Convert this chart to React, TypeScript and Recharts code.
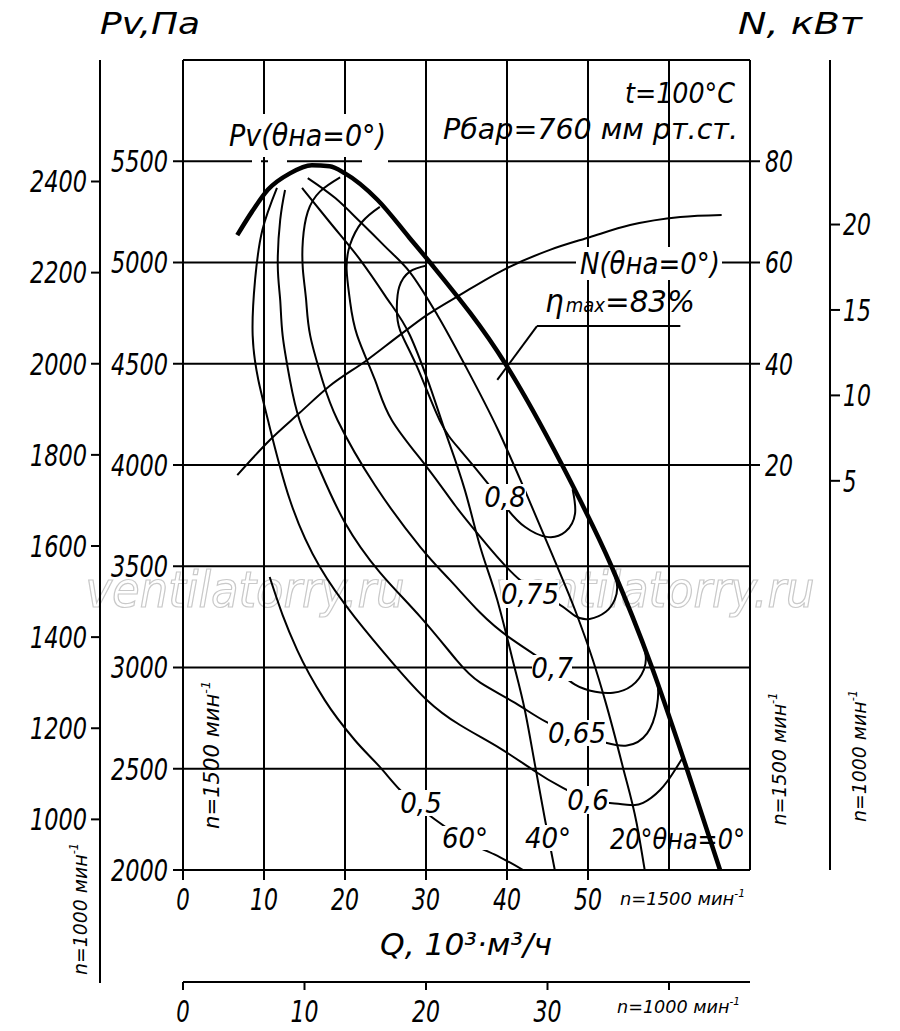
import React from "react";
import {
  CartesianGrid,
  ComposedChart,
  Line,
  ReferenceLine,
  XAxis,
  YAxis,
} from "recharts";

// Fan characteristic, n = 1500 min-1 (inner scales) and n = 1000 min-1 (outer scales).

const FONT = "'Liberation Sans Narrow', 'DejaVu Sans Condensed', 'Liberation Sans', sans-serif";

// Axis ticks
const Q_TICKS = [0, 10, 20, 30, 40, 50];
const Q1000_TICKS = [0, 10, 20, 30, 40];
const PV_TICKS = [2000, 2500, 3000, 3500, 4000, 4500, 5000, 5500];
const PV1000_TICKS = [1000, 1200, 1400, 1600, 1800, 2000, 2200, 2400];
const N_TICKS = [20, 40, 60, 80];
const N1000_TICKS = [5, 10, 15, 20];

// Speed ratio between the two scale sets (1000 / 1500)
const K = 2 / 3;

// Pv, θна = 0° (thick curve)
const PV0_Q = [6.7, 8.5, 10.5, 13.2, 15.9, 18.1, 20, 24, 28, 30.5, 39.8, 46.8, 52.9, 57.9, 62.2, 66.3];
const PV0_PA = [5135, 5250, 5360, 5440, 5480, 5475, 5440, 5310, 5120, 5000, 4500, 4000, 3500, 3000, 2500, 2000];

// N, θна = 0°, kW
const N0_Q = [6.7, 10.7, 14.4, 18.1, 22.7, 26.8, 30.1, 34.2, 40, 45.3, 50.2, 55.2, 61.4, 66.5];
const N0_KW = [18, 24.9, 30.3, 35.6, 40.7, 45.7, 49.6, 53.6, 58.9, 62.5, 65, 67.4, 69, 69.4];

// Pv for guide vane angles
const TH20_Q = [15.4, 18.8, 21.9, 24.9, 28.0, 31.4, 34.8, 38.9, 42.2, 45.7, 48.4, 50.6, 52.1, 54.3, 56.0, 57.0];
const TH20_PA = [5417, 5318, 5200, 5081, 4953, 4741, 4494, 4173, 3876, 3546, 3284, 3037, 2839, 2509, 2232, 2000];
const TH40_Q = [14.7, 18.1, 21.9, 24.9, 28.0, 30.2, 32.1, 34.8, 36.7, 38.8, 40.7, 42.2, 43.5, 44.7, 45.9];
const TH40_PA = [5368, 5200, 5012, 4839, 4642, 4420, 4197, 3876, 3595, 3333, 3037, 2790, 2509, 2247, 2000];
const TH60_Q = [10.7, 12.3, 14.1, 17.5, 21.2, 24.3, 26.8, 29.9, 32.6, 36.0, 39.1, 42.0];
const TH60_PA = [3447, 3259, 3086, 2839, 2642, 2509, 2395, 2286, 2207, 2123, 2064, 2000];

// Efficiency contours (loops, traced in order)
const ETA80_Q = [30.1, 28.0, 26.7, 26.4, 26.8, 28.9, 31.7, 34.2, 37.5, 40.1, 42.2, 44.9, 47.2, 48.4, 48.1];
const ETA80_PA = [4985, 4955, 4880, 4780, 4665, 4485, 4220, 4075, 3915, 3780, 3695, 3645, 3670, 3760, 3880];
const ETA75_Q = [24.3, 22.1, 20.6, 20.2, 20.6, 21.5, 23.7, 25.8, 30.1, 33.6, 36.7, 41.6, 46.2, 48.4, 50.2, 52.2, 53.3, 53.6, 53.2];
const ETA75_PA = [5275, 5200, 5085, 4965, 4815, 4640, 4420, 4220, 3990, 3800, 3645, 3432, 3318, 3255, 3240, 3275, 3335, 3400, 3470];
const ETA70_Q = [19.4, 16.9, 15.4, 14.8, 14.8, 15.2, 15.7, 17.2, 19.1, 23.7, 29.3, 33.0, 36.7, 40.4, 45.3, 48.4, 50.9, 53.1, 55.4, 56.9, 57.1, 56.6];
const ETA70_PA = [5420, 5350, 5250, 5110, 4965, 4815, 4640, 4420, 4220, 3900, 3595, 3430, 3270, 3145, 3010, 2915, 2880, 2875, 2910, 2990, 3065, 3135];
const ETA65_Q = [12.6, 12.0, 11.7, 12.0, 12.3, 13.2, 14.4, 16.9, 20.0, 24.3, 29.3, 33.8, 36.7, 41.0, 44.9, 49.0, 52.1, 54.8, 57.3, 58.5, 58.6, 58.0];
const ETA65_PA = [5358, 5210, 4985, 4815, 4640, 4420, 4220, 3975, 3715, 3470, 3250, 3035, 2925, 2825, 2730, 2665, 2630, 2615, 2675, 2805, 2915, 2990];
const ETA60_Q = [11.6, 9.8, 8.9, 8.6, 9.3, 10.5, 13.2, 16.9, 21.2, 25.9, 30.1, 34.2, 39.1, 43.2, 46.9, 50.2, 52.7, 55.2, 56.8, 58.9, 60.5, 61.7];
const ETA60_PA = [5368, 5160, 4915, 4640, 4420, 4220, 3827, 3496, 3249, 3022, 2840, 2716, 2602, 2494, 2405, 2346, 2331, 2321, 2331, 2395, 2479, 2555];

const pts = (q: number[], v: number[]) => q.map((x, i) => ({ q: x, v: v[i] }));

const AXIS = { stroke: "#000", strokeWidth: 2 };
const txt = { fontFamily: FONT, fontStyle: "italic", fill: "#000" } as const;

// Tick labels: tall, narrow italic digits like the drawing
function tickText(kind: "x" | "y", fmt?: (v: number) => string) {
  return (props: any) => {
    const { x, y, payload, textAnchor } = props;
    const s = fmt ? fmt(payload.value) : String(payload.value);
    if (!s) return <g />;
    return (
      <text
        x={x}
        y={y}
        dy={kind === "y" ? "0.36em" : "0.71em"}
        textAnchor={textAnchor}
        fontSize={30}
        textLength={s.length * 14.5 - 1}
        lengthAdjust="spacingAndGlyphs"
        {...txt}
      >
        {s}
      </text>
    );
  };
}

type Curve = { id: string; data: { q: number; v: number }[]; axis: string; w: number; type: "monotone" | "natural" };

const CURVES: Curve[] = [
  { id: "eta60", data: pts(ETA60_Q, ETA60_PA), axis: "pv", w: 2, type: "natural" },
  { id: "eta65", data: pts(ETA65_Q, ETA65_PA), axis: "pv", w: 2, type: "natural" },
  { id: "eta70", data: pts(ETA70_Q, ETA70_PA), axis: "pv", w: 2, type: "natural" },
  { id: "eta75", data: pts(ETA75_Q, ETA75_PA), axis: "pv", w: 2, type: "natural" },
  { id: "eta80", data: pts(ETA80_Q, ETA80_PA), axis: "pv", w: 2, type: "natural" },
  { id: "th60", data: pts(TH60_Q, TH60_PA), axis: "pv", w: 2, type: "monotone" },
  { id: "th40", data: pts(TH40_Q, TH40_PA), axis: "pv", w: 2, type: "monotone" },
  { id: "th20", data: pts(TH20_Q, TH20_PA), axis: "pv", w: 2, type: "monotone" },
  { id: "n0", data: pts(N0_Q, N0_KW), axis: "n", w: 2, type: "monotone" },
  { id: "pv0", data: pts(PV0_Q, PV0_PA), axis: "pv", w: 4.5, type: "monotone" },
];

function Tag({ cx, cy, w, h, text, size = 29 }: { cx: number; cy: number; w: number; h: number; text: string; size?: number }) {
  return (
    <g>
      <rect x={cx - w / 2} y={cy - h / 2} width={w} height={h} fill="#fff" />
      <text x={cx} y={cy} dy="0.36em" textAnchor="middle" fontSize={size} {...txt}>
        {text}
      </text>
    </g>
  );
}

function Rpm({ x, y, n, len, size = 18, rotate = false, anchor = "start" }: { x: number; y: number; n: number; len: number; size?: number; rotate?: boolean; anchor?: string }) {
  return (
    <text
      x={x}
      y={y}
      fontSize={size}
      textAnchor={anchor as any}
      transform={rotate ? `rotate(-90 ${x} ${y})` : undefined}
      textLength={len}
      lengthAdjust="spacingAndGlyphs"
      {...txt}
    >
      n={n} мин
      <tspan fontSize={size * 0.6} dy={-size * 0.45}>-1</tspan>
    </text>
  );
}

function Watermark() {
  const s = { fontFamily: FONT, fontStyle: "italic", fontSize: 50, fill: "none", stroke: "#c9c9c9", strokeWidth: 1.2 } as const;
  return (
    <svg width={900} height={1031} style={{ position: "absolute", left: 0, top: 0 }}>
      <text x={245} y={607} textAnchor="middle" {...s}>ventilatorry.ru</text>
      <text x={655} y={607} textAnchor="middle" {...s}>ventilatorry.ru</text>
    </svg>
  );
}

function Overlay() {
  const fit = { lengthAdjust: "spacingAndGlyphs" } as const;
  return (
    <svg width={900} height={1031} style={{ position: "absolute", left: 0, top: 0, pointerEvents: "none" }}>
      {/* outer n=1000 pressure scale runs on below the plot */}
      <line x1={100} y1={869} x2={100} y2={983} stroke="#000" strokeWidth={2} />

      <text x={100} y={34} fontSize={31} textLength={100} {...fit} {...txt}>Pv,Па</text>
      <text x={738} y={34} fontSize={31} textLength={124} {...fit} {...txt}>N, кВт</text>

      <rect x={226} y={114} width={164} height={43} fill="#fff" />
      <rect x={252} y={157} width={9} height={7} fill="#fff" />
      <rect x={268} y={157} width={19} height={7} fill="#fff" />
      <rect x={362} y={157} width={26} height={7} fill="#fff" />
      <text x={229} y={146} fontSize={31} textLength={157} {...fit} {...txt}>Pv(θна=0°)</text>

      <text x={625} y={103} fontSize={28} textLength={110} {...fit} {...txt}>t=100°C</text>
      <text x={443} y={139} fontSize={28} textLength={295} {...fit} {...txt}>Рбар=760 мм рт.ст.</text>

      <rect x={576} y={247} width={146} height={33} fill="#fff" />
      <text x={580} y={274} fontSize={31} textLength={140} {...fit} {...txt}>N(θна=0°)</text>

      <text x={545} y={312} fontSize={31} textLength={150} {...fit} {...txt}>
        η<tspan fontSize={19} dx={2}>max</tspan>
        <tspan fontSize={31}>=83%</tspan>
      </text>

      <Tag cx={505} cy={497} w={42} h={26} text="0,8" />
      <Tag cx={530} cy={594} w={58} h={28} text="0,75" />
      <Tag cx={552} cy={668} w={40} h={26} text="0,7" />
      <Tag cx={577} cy={733} w={58} h={26} text="0,65" />
      <Tag cx={588} cy={800} w={42} h={28} text="0,6" />
      <Tag cx={421} cy={803} w={44} h={26} text="0,5" />
      <Tag cx={465} cy={838} w={48} h={24} text="60°" />
      <Tag cx={548} cy={838} w={48} h={26} text="40°" />
      <text x={610} y={849} fontSize={29} textLength={135} {...fit} {...txt}>20°θна=0°</text>

      <Rpm x={219} y={755} n={1500} len={148} size={21} rotate anchor="middle" />
      <Rpm x={87} y={909} n={1000} len={132} size={20} rotate anchor="middle" />
      <Rpm x={786} y={759} n={1500} len={133} size={20} rotate anchor="middle" />
      <Rpm x={866} y={756} n={1000} len={132} size={20} rotate anchor="middle" />
      <Rpm x={620} y={905} n={1500} len={125} />
      <Rpm x={617} y={1013} n={1000} len={123} />

      <text x={380} y={955} fontSize={31} textLength={172} {...fit} {...txt}>Q, 10³·м³/ч</text>
    </svg>
  );
}

export default function App() {
  return (
    <div style={{ position: "absolute", left: 0, top: 0, width: 900, height: 1031, background: "#fff" }}>
      <Watermark />
      <ComposedChart width={900} height={1031} margin={{ top: 60, right: 0, bottom: 0, left: 0 }}>
        <CartesianGrid xAxisId="q" yAxisId="pv" stroke="#000" strokeWidth={2} />
        <XAxis
          xAxisId="q"
          dataKey="q"
          type="number"
          domain={[0, 70]}
          ticks={Q_TICKS}
          interval={0}
          allowDataOverflow
          height={112}
          axisLine={AXIS}
          tickLine={AXIS}
          tickSize={10}
          tickMargin={9}
          tick={tickText("x")}
        />
        <XAxis
          xAxisId="q1000"
          dataKey="q"
          type="number"
          domain={[0, 70 * K]}
          ticks={Q1000_TICKS}
          interval={0}
          allowDataOverflow
          height={49}
          axisLine={AXIS}
          tickLine={AXIS}
          tickSize={8}
          tickMargin={11}
          tick={tickText("x", (v) => (v === 40 ? "" : String(v)))}
        />
        <YAxis
          yAxisId="pv"
          orientation="left"
          type="number"
          domain={[2000, 6000]}
          ticks={PV_TICKS}
          interval={0}
          allowDataOverflow
          width={83}
          axisLine={AXIS}
          tickLine={AXIS}
          tickSize={10}
          tickMargin={5}
          tick={tickText("y")}
        />
        <YAxis
          yAxisId="pv1000"
          orientation="left"
          type="number"
          domain={[2000 * K * K, 6000 * K * K]}
          ticks={PV1000_TICKS}
          interval={0}
          allowDataOverflow
          width={100}
          axisLine={AXIS}
          tickLine={AXIS}
          tickSize={9}
          tickMargin={4}
          tick={tickText("y")}
        />
        <YAxis
          yAxisId="n"
          orientation="right"
          type="number"
          domain={[-60, 100]}
          ticks={N_TICKS}
          interval={0}
          allowDataOverflow
          width={80}
          axisLine={AXIS}
          tickLine={AXIS}
          tickSize={10}
          tickMargin={5}
          tick={tickText("y")}
        />
        <YAxis
          yAxisId="n1000"
          orientation="right"
          type="number"
          domain={[-60 * K * K * K, 100 * K * K * K]}
          ticks={N1000_TICKS}
          interval={0}
          allowDataOverflow
          width={70}
          axisLine={AXIS}
          tickLine={AXIS}
          tickSize={10}
          tickMargin={3}
          tick={tickText("y")}
        />
        <ReferenceLine xAxisId="q" yAxisId="pv" y={6000} stroke="#000" strokeWidth={2} />
        <ReferenceLine xAxisId="q" yAxisId="pv" x={60} stroke="#000" strokeWidth={2} />
        <ReferenceLine
          xAxisId="q"
          yAxisId="pv"
          segment={[{ x: 43.7, y: 4686 }, { x: 61.4, y: 4686 }]}
          stroke="#000"
          strokeWidth={2}
        />
        <ReferenceLine
          xAxisId="q"
          yAxisId="pv"
          segment={[{ x: 43.7, y: 4686 }, { x: 38.8, y: 4420 }]}
          stroke="#000"
          strokeWidth={2}
        />
        {CURVES.map((c) => (
          <Line
            key={c.id}
            data={c.data}
            xAxisId="q"
            yAxisId={c.axis}
            dataKey="v"
            type={c.type}
            stroke="#000"
            strokeWidth={c.w}
            dot={false}
            activeDot={false}
            isAnimationActive={false}
          />
        ))}
      </ComposedChart>
      <Overlay />
    </div>
  );
}
